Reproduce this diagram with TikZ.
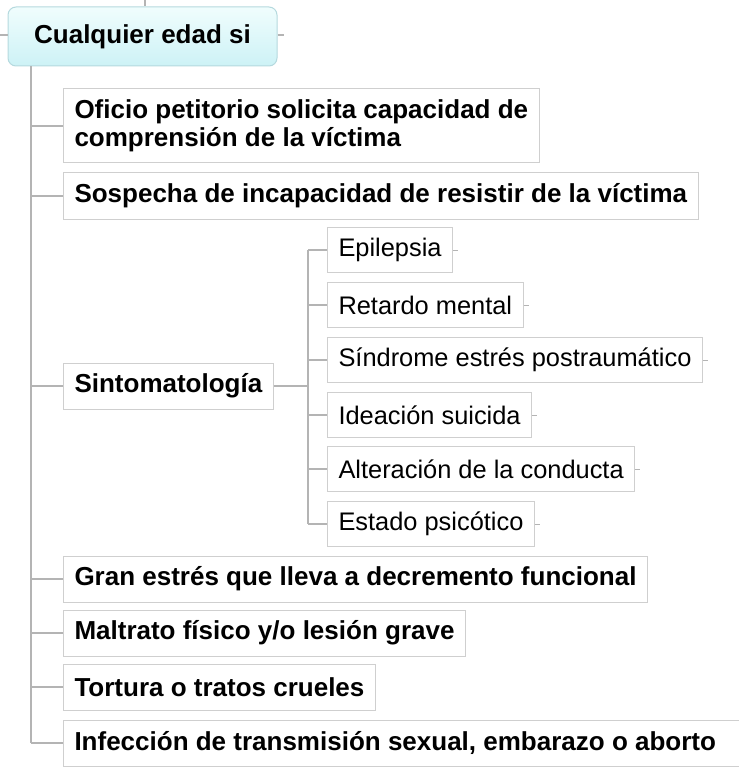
\documentclass[tikz,border=0pt]{standalone}
\usepackage{fontspec}
\setmainfont{Liberation Sans}
\definecolor{boxgray}{HTML}{CFCFCF}
\definecolor{linegray}{HTML}{B4B4B4}
\definecolor{roottop}{HTML}{F0FDFD}
\definecolor{rootbot}{HTML}{CDF2F6}
\definecolor{rootline}{HTML}{B5D9DE}
\begin{document}
\begin{tikzpicture}[x=1pt,y=-1pt,
  line/.style={draw=linegray, line width=1.2pt},
  item/.style={draw=boxgray, line width=1pt, fill=white, anchor=west, inner xsep=11pt, inner ysep=0pt,
    minimum height=46pt, font=\fontsize{26}{28}\selectfont\bfseries, align=left, text=black},
  sub/.style={item, minimum height=45pt, font=\fontsize{25.4}{28}\selectfont},
  root/.style={draw=rootline, line width=1pt, rounded corners=8pt, top color=roottop, bottom color=rootbot,
    minimum width=269pt, minimum height=59pt, font=\fontsize{26}{28}\selectfont\bfseries, text=black}]
\useasboundingbox (0,0) rectangle (738,778);

% root
\node[root] (root) at (142.5,36.5) {Cualquier edad si};
\coordinate (topstub) at (145,0);
\draw[line] (topstub) -- (topstub |- root.north);
\coordinate (lstub) at (0,35);
\draw[line] (lstub) -- (lstub -| root.west);
\coordinate (rstub) at (284,35);
\draw[line] (rstub -| root.east) -- (rstub);

% main items
\node[item, minimum height=74pt] (ofi) at (63,126) {Oficio petitorio solicita capacidad de\\comprensión de la víctima};
\node[item] (sos) at (63,196) {Sospecha de incapacidad de resistir de la víctima};
\node[item] (sin) at (63,386) {Sintomatología};
\node[item] (gra) at (63,579) {Gran estrés que lleva a decremento funcional};
\node[item] (mal) at (63,633) {Maltrato físico y/o lesión grave};
\node[item] (tor) at (63,687) {Tortura o tratos crueles};
\node[item] (inf) at (63,743) {\makebox[680pt][l]{Infección de transmisión sexual, embarazo o aborto}};

% sub items
\node[sub] (epi) at (327,250) {Epilepsia};
\node[sub] (ret) at (327,305) {Retardo mental};
\node[sub] (sdr) at (327,360) {Síndrome estrés postraumático};
\node[sub] (ide) at (327,415) {Ideación suicida};
\node[sub] (alt) at (327,469) {Alteración de la conducta};
\node[sub] (est) at (327,524) {Estado psicótico};

% trunk
\coordinate (tb) at (31,743);
\draw[line] (root.south -| tb) -- (tb);
\foreach \n in {ofi,sos,sin,gra,mal,tor,inf}
  \draw[line] (\n.west -| tb) -- (\n.west);

% sub trunk
\coordinate (sx) at (308,386);
\draw[line] (sin.east) -- (sx);
\draw[line] (epi.west -| sx) -- (est.west -| sx);
\foreach \n in {epi,ret,sdr,ide,alt,est}{
  \draw[line] (\n.west -| sx) -- (\n.west);
  \draw[line, line width=0.8pt] (\n.east) -- ++(5,0);
}
\end{tikzpicture}
\end{document}
